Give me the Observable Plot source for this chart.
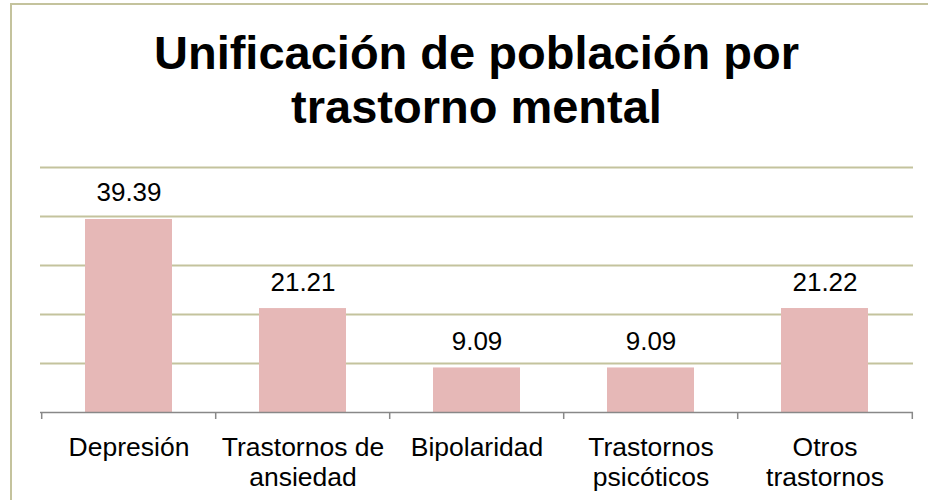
<!DOCTYPE html>
<html>
<head>
<meta charset="utf-8">
<script src="https://cdn.jsdelivr.net/npm/d3@7"></script>
<script src="https://cdn.jsdelivr.net/npm/@observablehq/plot@0.6"></script>
<style>
  html, body { margin: 0; padding: 0; background: #fff; }
  body { width: 928px; height: 500px; position: relative; overflow: hidden;
         font-family: "Liberation Sans", Arial, sans-serif; }
  #frame { position: absolute; left: 10px; top: 3px; width: 930px; height: 510px;
           border-top: 2px solid #C4C39D; border-left: 2px solid #C4C39D; box-sizing: border-box; }
  #title { position: absolute; left: 40px; top: 0; width: 873px; height: 150px;
           box-sizing: border-box; padding-top: 26px; text-align: center;
           font-weight: bold; font-size: 47px; line-height: 54px; color: #000; }
  #chart { position: absolute; left: 0; top: 150px; }
</style>
</head>
<body>
<div id="frame"></div>
<div id="title">Unificación de población por<br>trastorno mental</div>
<div id="chart"></div>
<script>
const categories = ["Depresión", "Trastornos de ansiedad", "Bipolaridad", "Trastornos psicóticos", "Otros trastornos"];
const values = [39.39, 21.21, 9.09, 9.09, 21.22];
const tickLabels = ["Depresión", "Trastornos de\nansiedad", "Bipolaridad", "Trastornos\npsicóticos", "Otros\ntrastornos"];
const gridTicks = [10, 20, 30, 40, 50];

const rows = categories.map((c, i) => ({cat: c, value: values[i], label: tickLabels[i]}));

const W = 928, H = 350, mL = 40, mR = 15, mT = 17, mB = 88;
const step = (W - mL - mR) / categories.length;
const font = "'Liberation Sans', Arial, sans-serif";

const plot = Plot.plot({
  width: W, height: H,
  marginTop: mT, marginBottom: mB, marginLeft: mL, marginRight: mR,
  x: {domain: categories, paddingInner: 0.5, paddingOuter: 0.25, axis: null},
  y: {domain: [0, 50], axis: null},
  style: {fontFamily: font, fontSize: "26px", color: "#000", background: "transparent"},
  marks: [
    Plot.ruleY(gridTicks, {stroke: "#C4C39D", strokeWidth: 2}),
    Plot.barY(rows, {x: "cat", y: "value", fill: "#E6B8B7"}),
    Plot.ruleY([0], {stroke: "#888888", strokeWidth: 1.5}),
    Plot.ruleX(categories, {x: d => d, dx: -step / 2, y1: 0, y2: 0, insetBottom: -7, stroke: "#888888", strokeWidth: 1.5}),
    Plot.ruleX(categories.slice(-1), {x: d => d, dx: step / 2, y1: 0, y2: 0, insetBottom: -7, stroke: "#888888", strokeWidth: 1.5}),
    Plot.text(rows, {x: "cat", y: "value", text: d => d.value.toFixed(2), dy: -18, lineAnchor: "bottom", fontSize: 26, fill: "#000"}),
    Plot.text(rows, {x: "cat", frameAnchor: "bottom", text: "label", lineAnchor: "top", dy: 22, lineHeight: 1.13, fontSize: 26.5, fill: "#000"})
  ]
});
document.getElementById("chart").appendChild(plot);
</script>
</body>
</html>
